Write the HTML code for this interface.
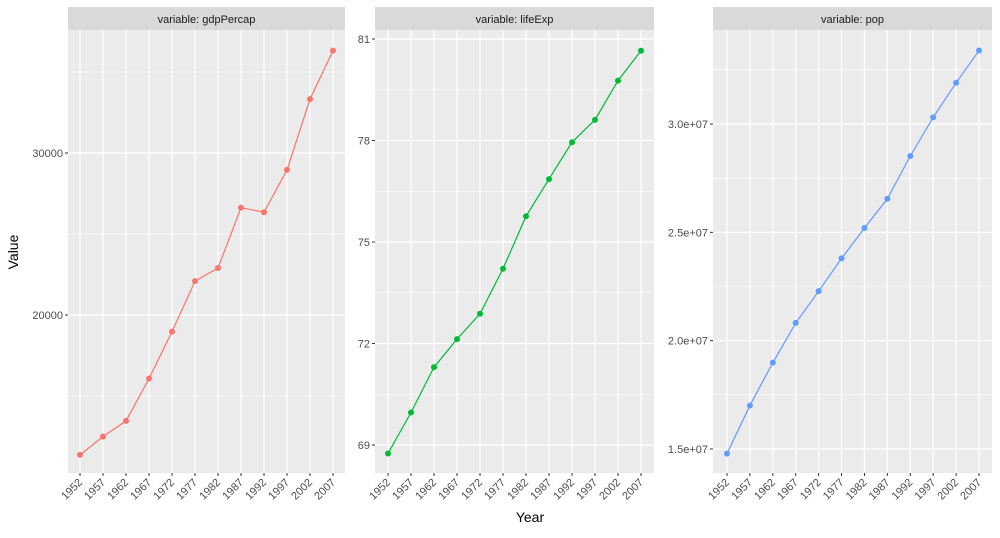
<!DOCTYPE html>
<html><head><meta charset="utf-8">
<style>
body{margin:0;background:#fff;font-family:"Liberation Sans",sans-serif;}
svg text{font-family:"Liberation Sans",sans-serif;}
</style></head>
<body>
<svg width="1000" height="533" id="chart"></svg>
<script>
const years = [1952,1957,1962,1967,1972,1977,1982,1987,1992,1997,2002,2007];
const gdpValues = [11367.16,12489.95,13462.49,16076.59,18970.57,22090.88,22898.79,26626.52,26342.88,28954.93,33328.97,36319.24];
const lifeValues = [68.75,69.96,71.3,72.13,72.88,74.21,75.76,76.86,77.95,78.61,79.77,80.653];
const popValues = [14785584,17010154,18985849,20819767,22284500,23796400,25201900,26549700,28523502,30305843,31902268,33390141];
const gdpTicks = [20000,30000];
const gdpTickLabels = ["20000","30000"];
const lifeTicks = [69,72,75,78,81];
const lifeTickLabels = ["69","72","75","78","81"];
const popTicks = [15000000,20000000,25000000,30000000];
const popTickLabels = ["1.5e+07","2.0e+07","2.5e+07","3.0e+07"];

const NS="http://www.w3.org/2000/svg";
const svg=document.getElementById('chart');
function mk(tag,attrs,parent){const e=document.createElementNS(NS,tag);for(const k in attrs)e.setAttribute(k,attrs[k]);(parent||svg).appendChild(e);return e;}

const facets=[
 {key:'gdp',title:'variable: gdpPercap',vals:gdpValues,ticks:gdpTicks,labels:gdpTickLabels,left:68,right:345,x0:80,x1:333,v0:20000,p0:315,v1:30000,p1:153,color:'#F8766D',minor:[15000,25000,35000]},
 {key:'life',title:'variable: lifeExp',vals:lifeValues,ticks:lifeTicks,labels:lifeTickLabels,left:375,right:654,x0:388,x1:641,v0:69,p0:445,v1:81,p1:39,color:'#00BA38',minor:[70.5,73.5,76.5,79.5]},
 {key:'pop',title:'variable: pop',vals:popValues,ticks:popTicks,labels:popTickLabels,left:713,right:992,x0:727,x1:979,v0:15000000,p0:449,v1:30000000,p1:124,color:'#619CFF',minor:[17500000,22500000,27500000,32500000]}
];
const TOP=30,BOT=473;
facets.forEach(f=>{
 const g=mk('g',{});
 
 
 const y=v=>f.p0+(v-f.v0)*(f.p1-f.p0)/(f.v1-f.v0);
 const x=i=>f.x0+i*(f.x1-f.x0)/(years.length-1);
 const strip=mk('rect',{x:f.left,y:7,width:f.right-f.left,height:TOP-7,fill:'#D9D9D9'},g);
 
 
 const st=mk('text',{x:(f.left+f.right)/2,y:23,'text-anchor':'middle','font-size':11,fill:'#1a1a1a'},g);
 st.textContent=f.title;
 
 
 const bg=mk('rect',{x:f.left,y:TOP,width:f.right-f.left,height:BOT-TOP,fill:'#EBEBEB'},g);
 
 
 f.minor.forEach(v=>{const yy=y(v);if(yy>TOP&&yy<BOT)mk('line',{x1:f.left,x2:f.right,y1:yy,y2:yy,stroke:'#fff','stroke-width':0.6},g);});
 f.ticks.forEach((v,i)=>{const yy=y(v);
  mk('line',{x1:f.left,x2:f.right,y1:yy,y2:yy,stroke:'#fff','stroke-width':1.2},g);
  mk('line',{x1:f.left-3,x2:f.left,y1:yy,y2:yy,stroke:'#333','stroke-width':1},g);
  const t=mk('text',{x:f.left-5,y:yy+4,'text-anchor':'end','font-size':11,fill:'#4d4d4d'},g);
  t.textContent=f.labels[i];
  
  
 });
 years.forEach((yr,i)=>{const xx=x(i);
  mk('line',{x1:xx,x2:xx,y1:TOP,y2:BOT,stroke:'#fff','stroke-width':1.2},g);
  mk('line',{x1:xx,x2:xx,y1:BOT,y2:BOT+3,stroke:'#333','stroke-width':1},g);
  const t=mk('text',{x:xx+3,y:BOT+10,'text-anchor':'end','font-size':11,fill:'#4d4d4d',transform:`rotate(-45 ${xx+3} ${BOT+10})`},g);
  t.textContent=yr;
  
  
 });
 const pts=f.vals.map((v,i)=>x(i)+','+y(v)).join(' ');
 const line=mk('polyline',{points:pts,fill:'none',stroke:f.color,'stroke-width':1.2},g);
 
 
 f.vals.forEach((v,i)=>{const c=mk('circle',{cx:x(i),cy:y(v),r:3,fill:f.color},g);
  
  
 });
});
const yt=mk('text',{x:18,y:252,'text-anchor':'middle','font-size':14,fill:'#000',transform:'rotate(-90 18 252)'});
yt.textContent='Value';


const xt=mk('text',{x:530,y:522,'text-anchor':'middle','font-size':14,fill:'#000'});
xt.textContent='Year';


</script>
</body></html>
